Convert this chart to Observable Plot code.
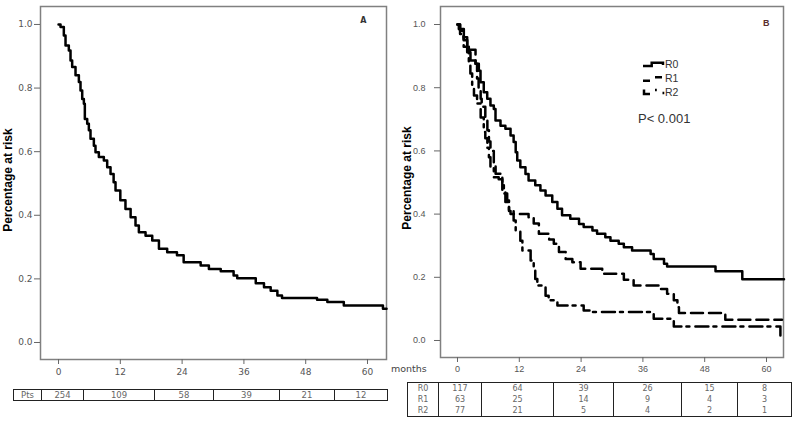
<!DOCTYPE html>
<html><head><meta charset="utf-8">
<script src="https://cdn.jsdelivr.net/npm/d3@7"></script>
<script src="https://cdn.jsdelivr.net/npm/@observablehq/plot@0.6"></script>
<style>
body{margin:0;background:#fff;}
#wrap{position:relative;width:796px;height:424px;overflow:hidden;background:#fff;}
.pl{position:absolute;top:0;}
.ytitle{position:absolute;font:bold 12px "Liberation Sans",Arial,sans-serif;color:#000;transform:translate(-50%,-50%) rotate(-90deg);white-space:nowrap;}
.txt{position:absolute;white-space:nowrap;}
table.risk{position:absolute;border-collapse:collapse;table-layout:fixed;font-family:"DejaVu Sans",sans-serif;color:#666;border:1.5px solid #222;}
table.risk td{border-left:1.5px solid #222;border-right:1.5px solid #222;text-align:center;padding:0;overflow:hidden;}
</style>
</head><body>
<div id="wrap"></div>
<script>
// ---------- data ----------
const ticksX = [0, 12, 24, 36, 48, 60];
const ticksY = [0, 0.2, 0.4, 0.6, 0.8, 1.0];

// Panel A: all patients
const aMonths = [0,0.39,1.03,1.36,2.0,2.33,2.65,3.3,3.95,4.27,4.6,4.92,5.11,5.57,5.89,6.21,6.86,7.18,7.83,8.8,9.45,10.1,10.7,11.07,12.0,13.0,14.0,14.95,15.6,16.9,18.2,19.5,21.1,23.0,24.3,27.6,29.2,31.5,34.0,34.7,38.3,39.9,41.2,42.5,43.4,50.2,52.2,55.4,63.0,63.7];
const aSurv   = [1.0,0.992,0.965,0.934,0.918,0.887,0.866,0.840,0.819,0.792,0.766,0.751,0.703,0.688,0.667,0.641,0.619,0.598,0.583,0.572,0.551,0.530,0.504,0.478,0.447,0.420,0.394,0.368,0.347,0.336,0.321,0.295,0.284,0.274,0.252,0.242,0.231,0.224,0.211,0.202,0.186,0.174,0.163,0.148,0.14,0.134,0.127,0.116,0.106,0.106];

// Panel B: by resection status
const r0Months = [0,0.26,1.23,1.88,2.52,3.5,4.14,4.47,5.1,5.77,6.4,7.05,7.38,8.35,9.3,10.3,10.9,11.3,11.6,12.2,13.2,13.8,15.1,16.1,17.1,18.4,19.4,20.3,21.9,23.6,24.5,26.2,27.1,28.7,29.7,31.3,32.3,33.9,37.5,38.1,40.1,40.7,50.1,55.3,63.4];
const r0Surv   = [1.0,0.986,0.960,0.912,0.886,0.876,0.854,0.817,0.786,0.765,0.744,0.733,0.696,0.680,0.670,0.649,0.628,0.596,0.570,0.548,0.527,0.506,0.491,0.475,0.459,0.438,0.417,0.396,0.385,0.369,0.359,0.348,0.338,0.327,0.316,0.306,0.295,0.285,0.274,0.258,0.243,0.234,0.219,0.194,0.194];
const r1Months = [0,0.5,1.2,1.9,3.5,3.8,4.1,4.5,4.7,5.4,5.8,6.1,6.4,7.05,7.4,8.7,9.3,10.0,10.3,13.8,14.8,15.8,17.8,18.7,19.7,21.0,22.3,23.9,28.1,32.3,34.2,39.4,40.7,42.0,42.7,43.0,52.0,63.0];
const r1Surv   = [1.0,0.98,0.95,0.92,0.876,0.829,0.79,0.765,0.74,0.707,0.665,0.63,0.60,0.56,0.528,0.475,0.438,0.41,0.40,0.39,0.37,0.338,0.32,0.306,0.28,0.258,0.248,0.227,0.211,0.192,0.174,0.163,0.148,0.127,0.105,0.087,0.066,0.066];
const r2Months = [0,0.5,1.2,2.2,2.5,2.85,3.2,3.8,4.5,5.1,5.4,5.8,6.1,6.4,7.05,8.0,8.7,9.0,9.65,10.0,10.9,11.3,12.2,12.6,14.2,14.8,15.1,15.5,17.1,17.7,19.4,24.5,25.8,38.1,41.7,42.0,62.7,62.9];
const r2Surv   = [1.0,0.97,0.93,0.876,0.845,0.807,0.775,0.75,0.706,0.66,0.64,0.61,0.58,0.548,0.517,0.51,0.50,0.465,0.443,0.41,0.38,0.348,0.316,0.285,0.253,0.232,0.195,0.174,0.142,0.127,0.111,0.095,0.09,0.069,0.063,0.044,0.01,0.01];

// Numbers at risk
const riskCols = ["0", "12", "24", "36", "48", "60"];
const ptsAtRisk = [254, 109, 58, 39, 21, 12];
const r0AtRisk = [117, 64, 39, 26, 15, 8];
const r1AtRisk = [63, 25, 14, 9, 4, 3];
const r2AtRisk = [77, 21, 5, 4, 2, 1];

const yTitle = "Percentage at risk";
const groups = ["R0", "R1", "R2"];

// ---------- helpers ----------
const toRows = (ts, ss) => ts.map((t, i) => ({t, s: ss[i]}));
const wrap = document.getElementById("wrap");

function addPlot(left, opts) {
  const el = Plot.plot(opts);
  el.classList.add("pl");
  el.style.left = left + "px";
  wrap.appendChild(el);
}

// ---------- Panel A ----------
addPlot(0, {
  width: 400, height: 380,
  marginLeft: 40, marginRight: 14, marginTop: 6, marginBottom: 21,
  style: {fontFamily: "DejaVu Sans, sans-serif", fontSize: "9px", color: "#555", background: "transparent"},
  x: {domain: [-3.5, 63.69]},
  y: {domain: [-0.0535, 1.0565]},
  marks: [
    Plot.frame({stroke: "#808080", strokeWidth: 1.5}),
    Plot.axisX({ticks: ticksX, tickSize: 5, tickPadding: 4, label: null, stroke: "#666", fill: "#555"}),
    Plot.axisY({ticks: ticksY, tickSize: 6, tickPadding: 2, tickFormat: d3.format(".1f"), label: null, stroke: "#666", fill: "#555"}),
    Plot.line(toRows(aMonths, aSurv), {x: "t", y: "s", curve: "step-after", stroke: "#000", strokeWidth: 2.5}),
    Plot.text(["A"], {frameAnchor: "top-right", dx: -20, dy: 11, fontWeight: "bold", fontSize: 8, fill: "#333"})
  ]
});

// ---------- Panel B ----------
addPlot(400, {
  width: 396, height: 375,
  marginLeft: 40, marginRight: 13, marginTop: 6, marginBottom: 18,
  style: {fontFamily: "Liberation Sans, Arial, sans-serif", fontSize: "9px", color: "#555", background: "transparent"},
  x: {domain: [-3.3, 63.3]},
  y: {domain: [-0.0538, 1.057]},
  marks: [
    Plot.frame({stroke: "#808080", strokeWidth: 1.5}),
    Plot.axisX({ticks: ticksX, tickSize: 5, tickPadding: 3, label: null, stroke: "#666", fill: "#555"}),
    Plot.axisY({ticks: ticksY, tickSize: 6, tickPadding: 9, tickFormat: d3.format(".1f"), label: null, stroke: "#666", fill: "#555"}),
    Plot.line(toRows(r0Months, r0Surv), {x: "t", y: "s", curve: "step-after", stroke: "#000", strokeWidth: 2.5}),
    Plot.line(toRows(r1Months, r1Surv), {x: "t", y: "s", curve: "step-after", stroke: "#000", strokeWidth: 2.5, strokeDasharray: "12,6"}),
    Plot.line(toRows(r2Months, r2Surv), {x: "t", y: "s", curve: "step-after", stroke: "#000", strokeWidth: 2.5, strokeDasharray: "13,5,3,6"}),
    Plot.text(["B"], {frameAnchor: "top-right", dx: -14, dy: 13, fontWeight: "bold", fontSize: 9, fill: "#5a2d2d"})
  ]
});

// ---------- HTML annotations ----------
function addText(html, css) {
  const d = document.createElement("div");
  d.className = "txt";
  d.innerHTML = html;
  Object.assign(d.style, css);
  wrap.appendChild(d);
  return d;
}
function addYTitle(cx, cy) {
  const d = document.createElement("div");
  d.className = "ytitle";
  d.textContent = yTitle;
  d.style.left = cx + "px";
  d.style.top = cy + "px";
  wrap.appendChild(d);
}
addYTitle(8, 180);
addYTitle(407, 178);

addText("months", {left: "391px", top: "363px", font: "9.5px 'DejaVu Sans', sans-serif", color: "#444"});

// legend
const legSvg = document.createElementNS("http://www.w3.org/2000/svg", "svg");
legSvg.setAttribute("width", "30");
legSvg.setAttribute("height", "45");
legSvg.style.position = "absolute";
legSvg.style.left = "640px";
legSvg.style.top = "55px";
legSvg.innerHTML =
  '<path d="M3,11 H11.7 V7.7 H23 V10" fill="none" stroke="#000" stroke-width="2.5"/>' +
  '<path d="M3,25.7 H10 M15,22.3 H22" fill="none" stroke="#000" stroke-width="2.5"/>' +
  '<path d="M4,34.5 V39 H10 M15,35 h1.8 M22.5,38 h1.8" fill="none" stroke="#000" stroke-width="2.5"/>';
wrap.appendChild(legSvg);
groups.forEach((g, i) => {
  addText(g, {left: "665px", top: (58 + i * 14) + "px", font: "10.5px 'Liberation Sans', Arial, sans-serif", color: "#333", lineHeight: "12px"});
});
addText("P&lt; 0.001", {left: "638px", top: "111px", font: "13px 'Liberation Sans', Arial, sans-serif", color: "#333", lineHeight: "16px"});

// risk tables
function addTable(left, top, widths, rows, rowH, fontPx) {
  const t = document.createElement("table");
  t.className = "risk";
  t.style.left = left + "px";
  t.style.top = top + "px";
  t.style.fontSize = fontPx + "px";
  const cg = document.createElement("colgroup");
  widths.forEach(w => { const c = document.createElement("col"); c.style.width = w + "px"; cg.appendChild(c); });
  t.appendChild(cg);
  rows.forEach(r => {
    const tr = document.createElement("tr");
    r.forEach(v => {
      const td = document.createElement("td");
      td.textContent = v;
      td.style.height = rowH + "px";
      td.style.lineHeight = rowH + "px";
      tr.appendChild(td);
    });
    t.appendChild(tr);
  });
  wrap.appendChild(t);
}
addTable(13, 389, [28, 42, 71, 59, 66, 55, 53], [["Pts", ...ptsAtRisk]], 10, 8.5);
addTable(407, 382, [31, 43, 72, 60, 68, 56, 54], [["R0", ...r0AtRisk], ["R1", ...r1AtRisk], ["R2", ...r2AtRisk]], 11, 8);
</script>
</body></html>
